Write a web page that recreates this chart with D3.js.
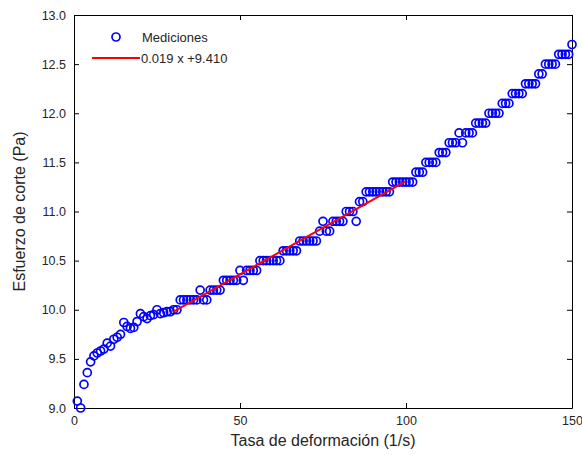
<!DOCTYPE html>
<html>
<head>
<meta charset="utf-8">
<script src="https://cdn.jsdelivr.net/npm/d3@7"></script>
<style>
  body { margin: 0; background: #fff; }
  text { font-family: "Liberation Sans", Arial, sans-serif; fill: #262626; }
</style>
</head>
<body>
<svg width="582" height="455"></svg>
<script>
// measured shear rate (1/s) and shear stress (Pa)
const rate = [
    1, 2, 3, 4, 5, 6, 7, 8, 9, 10, 11, 12, 13, 14, 15, 16, 17, 18, 19, 20,
    21, 22, 23, 24, 25, 26, 27, 28, 29, 30, 31, 32, 33, 34, 35, 36, 37, 38, 39, 40,
    41, 42, 43, 44, 45, 46, 47, 48, 49, 50, 51, 52, 53, 54, 55, 56, 57, 58, 59, 60,
    61, 62, 63, 64, 65, 66, 67, 68, 69, 70, 71, 72, 73, 74, 75, 76, 77, 78, 79, 80,
    81, 82, 83, 84, 85, 86, 87, 88, 89, 90, 91, 92, 93, 94, 95, 96, 97, 98, 99, 100,
    101, 102, 103, 104, 105, 106, 107, 108, 109, 110, 111, 112, 113, 114, 115, 116, 117, 118, 119, 120,
    121, 122, 123, 124, 125, 126, 127, 128, 129, 130, 131, 132, 133, 134, 135, 136, 137, 138, 139, 140,
    141, 142, 143, 144, 145, 146, 147, 148, 149, 150
];
const stress = [
    9.07, 9.00, 9.24, 9.36, 9.47, 9.53, 9.56, 9.58, 9.60, 9.66, 9.63, 9.70, 9.72, 9.75, 9.87, 9.83, 9.81, 9.82, 9.88, 9.96,
    9.93, 9.91, 9.94, 9.95, 10.0, 9.96, 9.97, 9.98, 9.98, 10.0, 10.0, 10.1, 10.1, 10.1, 10.1, 10.1, 10.1, 10.2, 10.1, 10.1,
    10.2, 10.2, 10.2, 10.2, 10.3, 10.3, 10.3, 10.3, 10.3, 10.4, 10.3, 10.4, 10.4, 10.4, 10.4, 10.5, 10.5, 10.5, 10.5, 10.5,
    10.5, 10.5, 10.6, 10.6, 10.6, 10.6, 10.6, 10.7, 10.7, 10.7, 10.7, 10.7, 10.7, 10.8, 10.9, 10.8, 10.8, 10.9, 10.9, 10.9,
    10.9, 11.0, 11.0, 11.0, 10.9, 11.1, 11.1, 11.2, 11.2, 11.2, 11.2, 11.2, 11.2, 11.2, 11.2, 11.3, 11.3, 11.3, 11.3, 11.3,
    11.3, 11.3, 11.4, 11.4, 11.4, 11.5, 11.5, 11.5, 11.5, 11.6, 11.6, 11.6, 11.7, 11.7, 11.7, 11.8, 11.7, 11.8, 11.8, 11.8,
    11.9, 11.9, 11.9, 11.9, 12.0, 12.0, 12.0, 12.0, 12.1, 12.1, 12.1, 12.2, 12.2, 12.2, 12.2, 12.3, 12.3, 12.3, 12.3, 12.4,
    12.4, 12.5, 12.5, 12.5, 12.5, 12.6, 12.6, 12.6, 12.6, 12.7
];

// linear fit over the middle range
const fitSlope = 0.019;
const fitIntercept = 9.410;
const fitRange = [30, 100];

const xTicks = [0, 50, 100, 150];
const yTicks = [9.0, 9.5, 10.0, 10.5, 11.0, 11.5, 12.0, 12.5, 13.0];

const svg = d3.select('svg');
const plot = { left: 74, right: 572, top: 15, bottom: 408 };

const x = d3.scaleLinear().domain([0, 150]).range([plot.left, plot.right]);
const y = d3.scaleLinear().domain([9, 13]).range([plot.bottom, plot.top]);

// box with inward ticks on all four sides
const tick = 5;
const axisStyle = g => {
    g.select('.domain').attr('stroke', '#000');
    g.selectAll('.tick line').attr('stroke', '#000');
    g.selectAll('.tick text').style('font-size', '12.5px').attr('fill', '#262626');
};

svg.append('g').attr('transform', `translate(0,${plot.bottom})`)
    .call(d3.axisBottom(x).tickValues(xTicks).tickSizeInner(-tick).tickSizeOuter(0).tickPadding(8))
    .call(axisStyle);
svg.append('g').attr('transform', `translate(0,${plot.top})`)
    .call(d3.axisTop(x).tickValues(xTicks).tickSizeInner(-tick).tickSizeOuter(0).tickFormat(''))
    .call(axisStyle);
svg.append('g').attr('transform', `translate(${plot.left},0)`)
    .call(d3.axisLeft(y).tickValues(yTicks).tickSizeInner(-tick).tickSizeOuter(0).tickPadding(8).tickFormat(d3.format('.1f')))
    .call(axisStyle);
svg.append('g').attr('transform', `translate(${plot.right},0)`)
    .call(d3.axisRight(y).tickValues(yTicks).tickSizeInner(-tick).tickSizeOuter(0).tickFormat(''))
    .call(axisStyle);

// measurements
svg.append('g').selectAll('circle')
    .data(rate.map((r, i) => [r, stress[i]]))
    .join('circle')
    .attr('cx', d => x(d[0]))
    .attr('cy', d => y(d[1]))
    .attr('r', 4)
    .attr('fill', 'none')
    .attr('stroke', '#0000ff')
    .attr('stroke-width', 1.7);

// fitted line
svg.append('line')
    .attr('x1', x(fitRange[0])).attr('y1', y(fitSlope * fitRange[0] + fitIntercept))
    .attr('x2', x(fitRange[1])).attr('y2', y(fitSlope * fitRange[1] + fitIntercept))
    .attr('stroke', '#ff0000').attr('stroke-width', 2);

// legend
const legend = svg.append('g');
legend.append('circle').attr('cx', 116).attr('cy', 37).attr('r', 4)
    .attr('fill', 'none').attr('stroke', '#0000ff').attr('stroke-width', 1.7);
legend.append('text').attr('x', 142).attr('y', 42).style('font-size', '13px').text('Mediciones');
legend.append('line').attr('x1', 92).attr('x2', 140).attr('y1', 58).attr('y2', 58)
    .attr('stroke', '#ff0000').attr('stroke-width', 2);
legend.append('text').attr('x', 141).attr('y', 63).style('font-size', '13px')
    .text(`${fitSlope.toFixed(3)} x +${fitIntercept.toFixed(3)}`);

// axis titles
svg.append('text').attr('x', (plot.left + plot.right) / 2).attr('y', 446)
    .attr('text-anchor', 'middle').style('font-size', '16px')
    .text('Tasa de deformación (1/s)');
svg.append('text').attr('transform', `translate(25,${(plot.top + plot.bottom) / 2}) rotate(-90)`)
    .attr('text-anchor', 'middle').style('font-size', '16px')
    .text('Esfuerzo de corte (Pa)');
</script>
</body>
</html>
